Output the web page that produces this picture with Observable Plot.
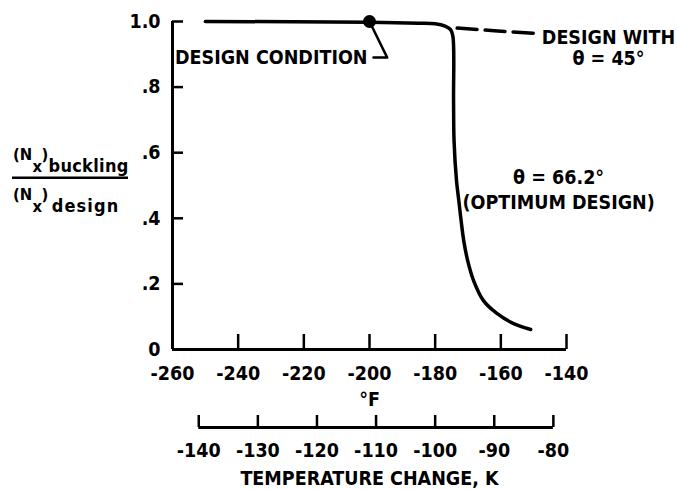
<!DOCTYPE html>
<html>
<head>
<meta charset="utf-8">
<script src="https://cdn.jsdelivr.net/npm/d3@7"></script>
<script src="https://cdn.jsdelivr.net/npm/@observablehq/plot@0.6"></script>
<style>
  body { margin: 0; background: white; }
</style>
</head>
<body>
<div id="chart"></div>
<script>
// ---- data ----
const xDomain = [-260, -140];
const fTicks = [-260, -240, -220, -200, -180, -160, -140];
const yTicks = [0, 0.2, 0.4, 0.6, 0.8, 1.0];
const yTickLabels = ["0", ".2", ".4", ".6", ".8", "1.0"];
const kTicks = [-140, -130, -120, -110, -100, -90, -80];

// optimum design (theta = 66.2 deg)
const optTempF = [-250, -200, -185, -180, -177, -175.3, -174.6, -174.4, -174.25, -173.5, -172.8, -172.1, -171.3, -170.1, -168.3, -165.3, -161.2, -156.1, -150.9];
const optRatio = [1.0, 0.998, 0.995, 0.993, 0.986, 0.975, 0.955, 0.76, 0.637, 0.515, 0.454, 0.393, 0.332, 0.271, 0.21, 0.149, 0.11, 0.079, 0.061];

// design with theta = 45 deg (dashed)
const d45TempF = [-173.3, -162, -149.5];
const d45Ratio = [0.98, 0.972, 0.964];

// design condition point and its leader line
const designPoint = {x: -200, y: 1.0};
const leaderX = [-200, -194.6, -198.8];
const leaderY = [1.0, 0.89, 0.89];

const optimum = optTempF.map((x, i) => ({x, y: optRatio[i]}));
const design45 = d45TempF.map((x, i) => ({x, y: d45Ratio[i]}));
const leader = leaderX.map((x, i) => ({x, y: leaderY[i]}));

const FONT = "'DejaVu Sans Condensed', 'DejaVu Sans', sans-serif";
const FS = 19.5;
const kOffset = 78;

const svg = Plot.plot({
  width: 677,
  height: 490,
  marginLeft: 172,
  marginRight: 111,
  marginTop: 21,
  marginBottom: 141,
  x: {domain: xDomain},
  y: {domain: [0, 1]},
  style: {fontFamily: FONT, fontSize: FS + "px", fontWeight: "bold", color: "black", background: "white", overflow: "visible"},
  marks: [
    // axis lines
    Plot.ruleY([0], {x1: xDomain[0], x2: xDomain[1], strokeWidth: 3}),
    Plot.ruleX([xDomain[0]], {y1: 0, y2: 1, strokeWidth: 3}),
    Plot.axisX(fTicks, {tickSize: -15, tickPadding: 32, strokeWidth: 2.5, tickFormat: d => String(d), label: null, fontSize: FS}),
    Plot.axisY(yTicks, {tickSize: -11, tickPadding: 23, strokeWidth: 2.5, tickFormat: d => yTickLabels[yTicks.indexOf(d)], label: null, fontSize: FS}),
    Plot.text(["°F"], {frameAnchor: "bottom", lineAnchor: "middle", dy: 50, fontSize: FS}),
    // secondary (Kelvin) axis
    Plot.ruleY([0], {x1: kTicks[0] * 1.8, x2: kTicks[kTicks.length - 1] * 1.8, dy: kOffset, strokeWidth: 3}),
    Plot.axisX(kTicks.map(k => k * 1.8), {tickSize: -12, tickPadding: 28, dy: kOffset, strokeWidth: 2.5, tickFormat: f => String(Math.round(f / 1.8)), label: null, fontSize: FS}),
    Plot.text(["TEMPERATURE CHANGE, K"], {frameAnchor: "bottom", lineAnchor: "middle", dy: 129, fontSize: FS}),
    // curves
    Plot.line(optimum, {x: "x", y: "y", strokeWidth: 3.5, curve: "catmull-rom"}),
    Plot.line(design45, {x: "x", y: "y", strokeWidth: 3.5, strokeDasharray: "20,8", curve: "catmull-rom"}),
    Plot.line(leader, {x: "x", y: "y", strokeWidth: 2.5}),
    Plot.dot([designPoint], {x: "x", y: "y", r: 6.5, fill: "black"}),
    // annotations
    Plot.text(["DESIGN CONDITION"], {x: leaderX[2] - 1.8, y: leaderY[2], textAnchor: "end", fontSize: FS}),
    Plot.text(["DESIGN WITH\nθ = 45°"], {x: -127.2, y: 0.921, textAnchor: "middle", lineHeight: 1.08, fontSize: FS}),
    Plot.text(["θ = 66.2°\n(OPTIMUM DESIGN)"], {x: -142.4, y: 0.491, textAnchor: "middle", lineHeight: 1.31, fontSize: FS})
  ]
});

// y-axis label: (Nx)buckling / (Nx)design
const g = d3.select(svg).append("g")
  .attr("font-family", FONT).attr("font-weight", "bold").attr("font-size", 16.5)
  .attr("fill", "black").attr("text-anchor", "start");
const parts = [
  {t: "(N", x: 13, y: 160},
  {t: "x", x: 32.5, y: 171.7},
  {t: ")", x: 41.5, y: 160},
  {t: "buckling", x: 48.5, y: 171.7, len: 79.8, fs: 18},
  {t: "(N", x: 13, y: 200},
  {t: "x", x: 32.5, y: 211.7},
  {t: ")", x: 41.5, y: 200},
  {t: "design", x: 51.7, y: 211.7, len: 66.6, fs: 18}
];
for (const p of parts) {
  const el = g.append("text").attr("x", p.x).attr("y", p.y).text(p.t);
  if (p.len) el.attr("textLength", p.len).attr("lengthAdjust", "spacing");
  if (p.fs) el.attr("font-size", p.fs);
}
g.append("line").attr("x1", 12).attr("x2", 128).attr("y1", 177.7).attr("y2", 177.7)
  .attr("stroke", "black").attr("stroke-width", 2.5);

document.getElementById("chart").appendChild(svg);
</script>
</body>
</html>
